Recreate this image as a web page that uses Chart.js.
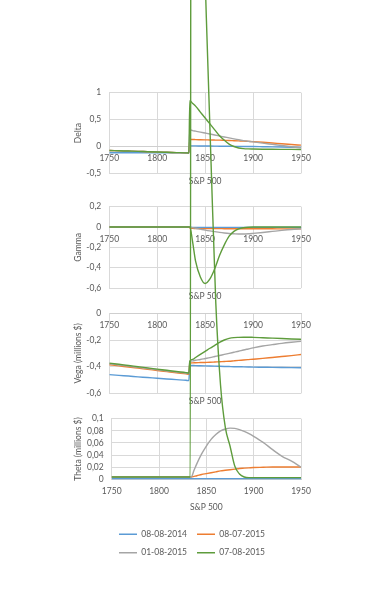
<!DOCTYPE html>
<html>
<head>
<meta charset="utf-8">
<script src="https://cdn.jsdelivr.net/npm/chart.js@4.4.0/dist/chart.umd.min.js"></script>
<style>
  html, body { margin: 0; padding: 0; background: #fff; }
  #page { position: relative; width: 369px; height: 593px; overflow: hidden; }
  #page canvas { position: absolute; left: 0; top: 0; }
</style>
</head>
<body>
<div id="page">
  <canvas id="deltaChart" width="369" height="593"></canvas>
  <canvas id="gammaChart" width="369" height="593"></canvas>
  <canvas id="vegaChart" width="369" height="593"></canvas>
  <canvas id="thetaChart" width="369" height="593"></canvas>
  <canvas id="legendChart" width="369" height="593"></canvas>
</div>
<script>
// Data
const spot = [1750, 1760, 1770, 1780, 1790, 1800, 1810, 1820, 1830, 1833, 1834, 1837, 1840, 1845, 1850,
              1855, 1860, 1865, 1870, 1875, 1880, 1885, 1890, 1895, 1900, 1910, 1920, 1930, 1940, 1950];
const spotTicks = [1750, 1800, 1850, 1900, 1950];
const seriesNames = ['08-08-2014', '08-07-2015', '01-08-2015', '07-08-2015'];

const deltaTicks = [-0.5, 0, 0.5, 1];
const delta2014 = [-0.115, -0.116, -0.116, -0.117, -0.117, -0.118, -0.118, -0.119, -0.12, -0.12,
                   0.012, 0.012, 0.011, 0.01, 0.009, 0.008, 0.007, 0.006, 0.005, 0.004,
                   0.003, 0.002, 0.001, 0, -0.001, -0.004, -0.007, -0.01, -0.013, -0.016];
const deltaJul15 = [-0.075, -0.08, -0.085, -0.09, -0.097, -0.103, -0.108, -0.113, -0.118, -0.12,
                    0.13, 0.13, 0.128, 0.126, 0.124, 0.122, 0.12, 0.118, 0.115, 0.112,
                    0.108, 0.104, 0.1, 0.095, 0.09, 0.078, 0.065, 0.05, 0.037, 0.025];
const deltaAug01 = [-0.075, -0.08, -0.085, -0.09, -0.097, -0.103, -0.108, -0.113, -0.118, -0.12,
                    0.31, 0.295, 0.285, 0.268, 0.25, 0.232, 0.213, 0.195, 0.177, 0.16,
                    0.142, 0.125, 0.11, 0.097, 0.085, 0.062, 0.04, 0.018, -0.005, -0.025];
const deltaAug07 = [-0.075, -0.08, -0.085, -0.09, -0.097, -0.103, -0.108, -0.113, -0.118, -0.12,
                    0.85, 0.8, 0.75, 0.64, 0.53, 0.42, 0.31, 0.2, 0.115, 0.045,
                    0, -0.028, -0.04, -0.045, -0.047, -0.05, -0.052, -0.053, -0.054, -0.055];

const gammaTicks = [-0.6, -0.4, -0.2, 0, 0.2];
const gamma2014 = [0, 0, 0, 0, 0, 0, 0, 0, 0, 0,
                   -0.003, -0.003, -0.003, -0.003, -0.003, -0.003, -0.003, -0.003, -0.003, -0.003,
                   -0.003, -0.003, -0.003, -0.003, -0.003, -0.003, -0.003, -0.003, -0.003, -0.003];
const gammaJul15 = [0, 0, 0, 0, 0, 0, 0, 0, 0, 0,
                    -0.008, -0.012, -0.014, -0.015, -0.015, -0.015, -0.015, -0.015, -0.016, -0.016,
                    -0.016, -0.016, -0.016, -0.017, -0.017, -0.017, -0.017, -0.018, -0.018, -0.018];
const gammaAug01 = [0, 0, 0, 0, 0, 0, 0, 0, 0, 0,
                    0, -0.006, -0.012, -0.021, -0.03, -0.038, -0.045, -0.052, -0.058, -0.063,
                    -0.066, -0.068, -0.068, -0.066, -0.062, -0.053, -0.043, -0.033, -0.024, -0.017];
const gammaAug07 = [0, 0, 0, 0, 0, 0, 0, 0, 0, 0,
                    0, -0.15, -0.335, -0.49, -0.555, -0.51, -0.41, -0.28, -0.175, -0.09,
                    -0.042, -0.018, -0.007, -0.002, 0, 0, 0, 0, 0, 0];

const vegaTicks = [-0.6, -0.4, -0.2, 0];
const vega2014 = [-0.459, -0.465, -0.47, -0.476, -0.481, -0.487, -0.492, -0.497, -0.502, -0.504,
                  -0.39, -0.391, -0.392, -0.393, -0.394, -0.395, -0.396, -0.397, -0.398, -0.399,
                  -0.4, -0.4, -0.401, -0.402, -0.403, -0.404, -0.405, -0.406, -0.407, -0.408];
const vegaJul15 = [-0.385, -0.394, -0.402, -0.411, -0.42, -0.428, -0.437, -0.446, -0.454, -0.457,
                   -0.372, -0.371, -0.37, -0.369, -0.368, -0.367, -0.365, -0.363, -0.361, -0.359,
                   -0.356, -0.353, -0.35, -0.347, -0.344, -0.338, -0.331, -0.324, -0.317, -0.309];
const vegaAug01 = [-0.378, -0.387, -0.396, -0.405, -0.414, -0.423, -0.432, -0.441, -0.449, -0.452,
                   -0.36, -0.356, -0.352, -0.346, -0.339, -0.332, -0.324, -0.316, -0.308, -0.3,
                   -0.292, -0.284, -0.275, -0.267, -0.259, -0.245, -0.235, -0.225, -0.217, -0.21];
const vegaAug07 = [-0.373, -0.382, -0.391, -0.4, -0.409, -0.418, -0.427, -0.436, -0.444, -0.447,
                   -0.358, -0.345, -0.331, -0.308, -0.285, -0.262, -0.24, -0.218, -0.2, -0.188,
                   -0.182, -0.18, -0.179, -0.179, -0.18, -0.183, -0.186, -0.189, -0.192, -0.195];

const thetaTicks = [0, 0.02, 0.04, 0.06, 0.08, 0.1];
const theta2014 = [0.001, 0.001, 0.001, 0.001, 0.001, 0.001, 0.001, 0.001, 0.001, 0.001,
                   0.001, 0.001, 0.001, 0.001, 0.001, 0.001, 0.001, 0.001, 0.001, 0.001,
                   0.001, 0.001, 0.001, 0.001, 0.001, 0.001, 0.001, 0.001, 0.001, 0.001];
const thetaJul15 = [0.004, 0.004, 0.004, 0.004, 0.004, 0.004, 0.004, 0.004, 0.004, 0.004,
                    0.004, 0.005, 0.006, 0.008, 0.0095, 0.011, 0.0125, 0.014, 0.015, 0.016,
                    0.017, 0.018, 0.0185, 0.019, 0.0195, 0.02, 0.0205, 0.0205, 0.0205, 0.0205];
const thetaAug01 = [0.004, 0.004, 0.004, 0.004, 0.004, 0.004, 0.004, 0.004, 0.004, 0.004,
                    0.004, 0.015, 0.026, 0.042, 0.055, 0.066, 0.074, 0.08, 0.083, 0.0845,
                    0.084, 0.082, 0.079, 0.0755, 0.071, 0.061, 0.049, 0.038, 0.03, 0.02];
const thetaAug07 = [0.004, 0.004, 0.004, 0.004, 0.004, 0.004, 0.004, 0.004, 0.004, 0.004,
                    1.6, 1.45, 1.3, 1.02, 0.76, 0.52, 0.29, 0.155, 0.086, 0.055,
                    0.022, 0.009, 0.004, 0.003, 0.003, 0.003, 0.003, 0.003, 0.003, 0.003];

// Styling
const seriesColors = ['#5b9bd5', '#ed7d31', '#a5a5a5', '#5e9c3c'];
const GRID = '#d9d9d9';
const AXIS = '#cfcfcf';
const TEXT = '#595959';

Chart.defaults.font.family = 'Lato, "Open Sans", sans-serif';
Chart.defaults.font.size = 8.5;
Chart.defaults.color = TEXT;

function makePanel(canvasId, p) {
    const datasets = p.series.map((vals, i) => ({
        label: seriesNames[i],
        data: spot.map((s, k) => ({ x: s, y: vals[k] })),
        xAxisID: 'x',
        yAxisID: 'y',
        // later series drawn on top, like the spreadsheet
        order: p.series.length - i,
        borderColor: seriesColors[i],
        backgroundColor: seriesColors[i],
        borderWidth: 1.4,
        pointRadius: 0,
        cubicInterpolationMode: 'monotone',
        ...(p.unclipped === i ? { clip: false } : {})
    }));

    return new Chart(document.getElementById(canvasId), {
        type: 'line',
        data: { datasets },
        options: {
            responsive: false,
            animation: false,
            layout: { padding: { top: p.top, bottom: p.bottom, left: 69, right: 68 } },
            plugins: { legend: { display: false }, tooltip: { enabled: false } },
            scales: {
                x: {
                    type: 'linear',
                    min: spotTicks[0],
                    max: spotTicks[spotTicks.length - 1],
                    position: { y: 0 },
                    afterBuildTicks: axis => { axis.ticks = spotTicks.map(v => ({ value: v })); },
                    ticks: { padding: 7, maxRotation: 0, autoSkip: false, callback: v => String(v) },
                    grid: { color: GRID, drawTicks: false },
                    border: { color: AXIS }
                },
                xt: {
                    type: 'linear',
                    position: 'bottom',
                    min: 0,
                    max: 1,
                    ticks: { display: false },
                    grid: { display: false, drawTicks: false },
                    border: { display: false },
                    title: { display: true, text: 'S&P 500', padding: { top: p.titleGap, bottom: 0 } }
                },
                y: {
                    type: 'linear',
                    min: Math.min(...p.ticks),
                    max: Math.max(...p.ticks),
                    afterBuildTicks: axis => { axis.ticks = p.ticks.map(v => ({ value: v })); },
                    afterFit: axis => { axis.width = p.axisWidth; },
                    ticks: { padding: 8, autoSkip: false, callback: v => String(v).replace('.', ',') },
                    grid: { color: GRID, drawTicks: false },
                    border: { color: GRID },
                    title: { display: true, text: p.yTitle, padding: { top: 4, bottom: 4 } }
                }
            }
        }
    });
}

makePanel('deltaChart', {
    series: [delta2014, deltaJul15, deltaAug01, deltaAug07],
    ticks: deltaTicks, yTitle: 'Delta',
    top: 92.7, bottom: 406.4, titleGap: 3, axisWidth: 40.3
});

makePanel('gammaChart', {
    series: [gamma2014, gammaJul15, gammaAug01, gammaAug07],
    ticks: gammaTicks, yTitle: 'Gamma',
    top: 206.7, bottom: 291.7, titleGap: 3, axisWidth: 40.3
});

makePanel('vegaChart', {
    series: [vega2014, vegaJul15, vegaAug01, vegaAug07],
    ticks: vegaTicks, yTitle: 'Vega (millions $)',
    top: 313.3, bottom: 186.4, titleGap: 3, axisWidth: 40.3
});

// the last theta series runs far off its panel, as in the source sheet
makePanel('thetaChart', {
    series: [theta2014, thetaJul15, thetaAug01, thetaAug07],
    ticks: thetaTicks, yTitle: 'Theta (millions $)',
    top: 418.7, bottom: 80.9, titleGap: 22.5, axisWidth: 42.7,
    unclipped: 3
});

// Shared legend, kept narrow so it wraps to two rows
new Chart(document.getElementById('legendChart'), {
    type: 'line',
    data: {
        datasets: seriesNames.map((name, i) => ({
            label: name,
            data: [],
            borderColor: seriesColors[i],
            backgroundColor: seriesColors[i],
            borderWidth: 1.4
        }))
    },
    options: {
        responsive: false,
        animation: false,
        layout: { padding: { top: 0, bottom: 26, left: 97, right: 82 } },
        scales: { x: { display: false }, y: { display: false } },
        plugins: {
            tooltip: { enabled: false },
            legend: {
                position: 'bottom',
                labels: { boxWidth: 18, boxHeight: 0, padding: 10, color: TEXT }
            }
        }
    }
});
</script>
</body>
</html>
